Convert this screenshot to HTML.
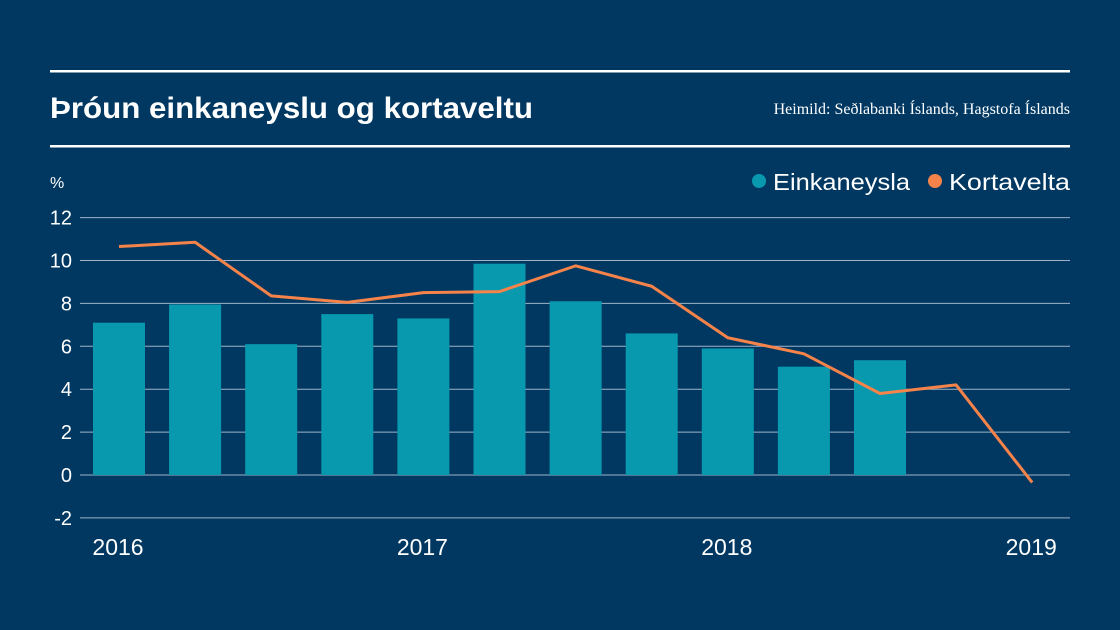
<!DOCTYPE html>
<html><head><meta charset="utf-8"><style>
body{margin:0;background:#003862;}
svg{display:block;font-family:"Liberation Sans",sans-serif;}
</style></head><body>
<svg width="1120" height="630">
<rect width="1120" height="630" fill="#003862"/>
<rect x="50" y="70" width="1020" height="2.5" fill="#fff"/>
<rect x="50" y="145" width="1020" height="2.5" fill="#fff"/>
<text x="50" y="118" fill="#fff" font-size="30" font-weight="bold" textLength="483" lengthAdjust="spacingAndGlyphs">Þróun einkaneyslu og kortaveltu</text>
<text x="1070" y="114" fill="#fff" font-size="16" text-anchor="end" font-family="Liberation Serif, serif">Heimild: Seðlabanki Íslands, Hagstofa Íslands</text>
<text x="50" y="188" fill="#fff" font-size="16">%</text>
<g>
<circle cx="759" cy="181" r="7" fill="#0899ae"/>
<text x="773" y="190" fill="#fff" font-size="23" textLength="137" lengthAdjust="spacingAndGlyphs">Einkaneysla</text>
<circle cx="935" cy="181" r="7" fill="#f5834a"/>
<text x="949" y="190" fill="#fff" font-size="23" textLength="121" lengthAdjust="spacingAndGlyphs">Kortavelta</text>
</g>
<g id="grid"></g><g id="bars"></g><g id="line"></g><g id="xl"></g>
</svg>
<script>
const yTicks=[-2,0,2,4,6,8,10,12];
const barValues=[7.1,7.95,6.1,7.5,7.3,9.85,8.1,6.6,5.9,5.05,5.35];
const lineValues=[10.65,10.85,8.35,8.05,8.5,8.55,9.75,8.8,6.4,5.65,3.8,4.2,-0.35];
const yearLabels=["2016","2017","2018","2019"];
const NS="http://www.w3.org/2000/svg";
function y(v){return 475-v*21.45;}
function x(i){return 119+i*76.1;}
function mk(t,a,p){const e=document.createElementNS(NS,t);for(const k in a)e.setAttribute(k,a[k]);p.appendChild(e);return e;}
const g=document.getElementById('grid');
yTicks.forEach(v=>{
 const l=mk('line',{x1:80,x2:1070,y1:y(v),y2:y(v),stroke:'#9fb3c8','stroke-width':1},g);
 
 
 const t=mk('text',{x:72,y:y(v)+7,fill:'#fff','font-size':20,'text-anchor':'end'},g);
 t.textContent=v;
 
 
});
const b=document.getElementById('bars');
barValues.forEach((v,i)=>{
 const r=mk('rect',{x:x(i)-26,width:52,y:Math.min(y(v),y(0)),height:Math.abs(y(v)-y(0)),fill:'#0899ae'},b);
 
 
});
const ln=mk('polyline',{points:lineValues.map((v,i)=>x(i)+','+y(v)).join(' '),fill:'none',stroke:'#f5834a','stroke-width':3,'stroke-linejoin':'round'},document.getElementById('line'));


const xl=document.getElementById('xl');
yearLabels.forEach((s,i)=>{
 const t=mk('text',{x:x(i*4)-1,y:555,fill:'#fff','font-size':23,'text-anchor':'middle'},xl);
 t.textContent=s;
 
 
});
</script>
</body></html>
